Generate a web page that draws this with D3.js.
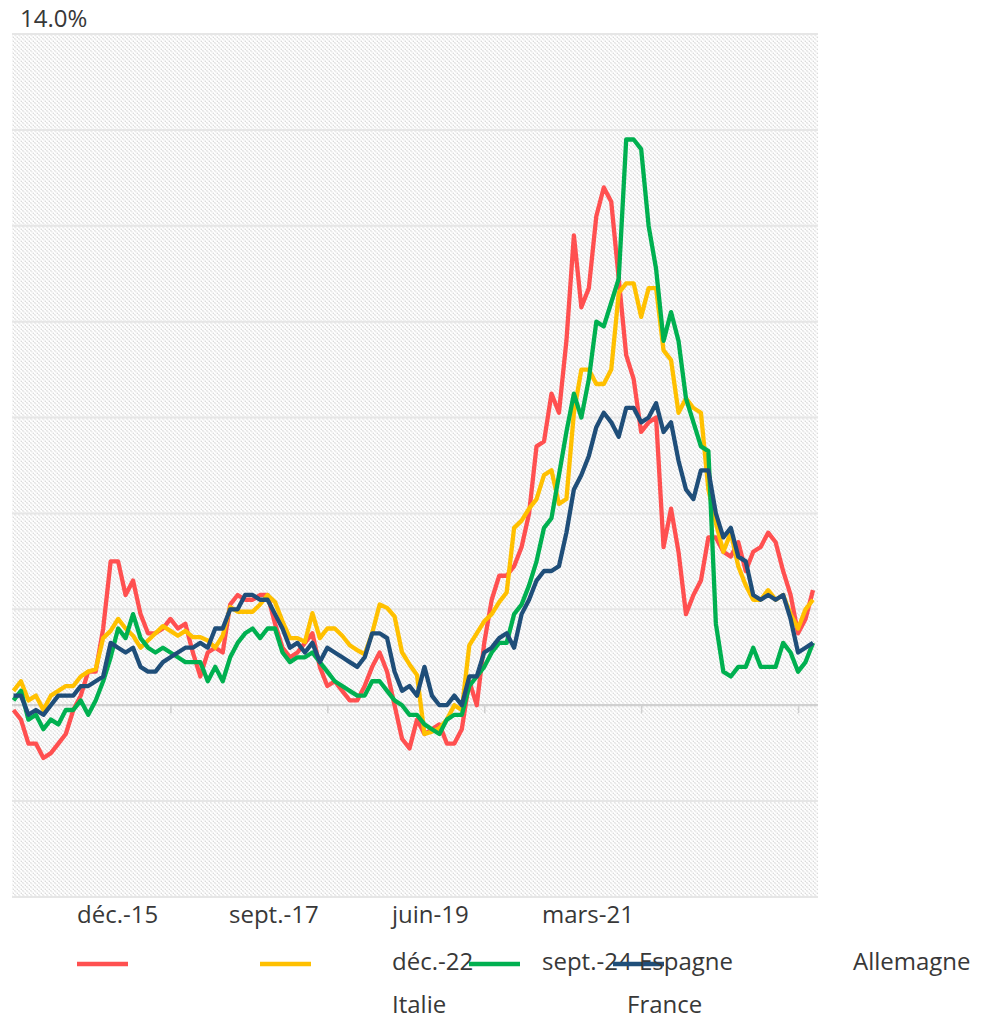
<!DOCTYPE html>
<html>
<head>
    <meta charset="utf-8">
    <title>Inflation - Espagne, Allemagne, Italie, France</title>
    <script src="https://cdn.jsdelivr.net/npm/d3@7"></script>
    <style>
        body {
            margin: 0;
            background: #fff;
        }

        text {
            font-family: "Open Sans", "Noto Sans", sans-serif;
            fill: #383838;
        }

        .grid line {
            stroke: #e6e6e6;
            stroke-width: 2px;
        }

        .series {
            fill: none;
            stroke-width: 4.3px;
            stroke-linejoin: round;
        }
    </style>
</head>
<body>
    <script>
        // Monthly data, déc. 2015 -> nov. 2024 (year-on-year %)
        const months = d3.timeMonth.range(new Date(2015, 11, 1), new Date(2024, 11, 1));

        const tickLabels = ["déc.-15", "sept.-17", "juin-19", "mars-21", "déc.-22", "sept.-24"];
        const seriesNames = ["Espagne", "Allemagne", "Italie", "France"];

        const espagne = [-0.1,
            -0.3, -0.8, -0.8, -1.1, -1.0, -0.8, -0.6, -0.1, 0.2, 0.7, 0.7, 1.6,
            3.0, 3.0, 2.3, 2.6, 1.9, 1.5, 1.5, 1.6, 1.8, 1.6, 1.7, 1.1,
            0.6, 1.1, 1.2, 1.1, 2.1, 2.3, 2.2, 2.2, 2.3, 2.3, 1.7, 1.2,
            1.0, 1.1, 1.3, 1.5, 0.8, 0.4, 0.5, 0.3, 0.1, 0.1, 0.4, 0.8,
            1.1, 0.7, 0.0, -0.7, -0.9, -0.3, -0.6, -0.5, -0.4, -0.8, -0.8, -0.5,
            0.5, 0.0, 1.3, 2.2, 2.7, 2.7, 2.9, 3.3, 4.0, 5.4, 5.5, 6.5,
            6.1, 7.6, 9.8, 8.3, 8.7, 10.2, 10.8, 10.5, 8.9, 7.3, 6.8, 5.7,
            5.9, 6.0, 3.3, 4.1, 3.2, 1.9, 2.3, 2.6, 3.5, 3.5, 3.2, 3.1,
            3.4, 2.8, 3.2, 3.3, 3.6, 3.4, 2.8, 2.3, 1.5, 1.8, 2.4];

        const allemagne = [0.3,
            0.5, 0.1, 0.2, -0.1, 0.2, 0.3, 0.4, 0.4, 0.6, 0.7, 0.75, 1.4,
            1.55, 1.8, 1.6, 1.45, 1.2, 1.35, 1.5, 1.65, 1.55, 1.45, 1.55, 1.42,
            1.42, 1.35, 1.2, 1.45, 2.05, 1.95, 1.95, 1.95, 2.1, 2.3, 2.15, 1.75,
            1.4, 1.4, 1.32, 1.92, 1.4, 1.6, 1.6, 1.45, 1.25, 1.15, 1.06, 1.5,
            2.1, 2.03, 1.85, 1.1, 0.85, 0.63, -0.6, -0.55, -0.48, -0.3, 0.0, -0.1,
            1.25, 1.5, 1.75, 1.9, 2.15, 2.35, 3.7, 3.85, 4.1, 4.3, 4.8, 4.9,
            4.2, 4.3, 6.1, 7.0, 7.0, 6.7, 6.7, 7.0, 8.6, 8.8, 8.8, 8.1,
            8.7, 8.7, 7.4, 7.2, 6.1, 6.4, 6.2, 6.1, 4.5, 3.8, 3.2, 3.6,
            2.9, 2.5, 2.2, 2.2, 2.4, 2.2, 2.3, 1.9, 1.6, 2.0, 2.2];

        const italie = [0.1,
            0.3, -0.3, -0.2, -0.5, -0.3, -0.4, -0.1, -0.1, 0.1, -0.2, 0.1, 0.5,
            1.0, 1.6, 1.4, 1.9, 1.4, 1.2, 1.1, 1.2, 1.1, 1.0, 0.9, 0.9,
            0.9, 0.5, 0.8, 0.5, 1.0, 1.3, 1.5, 1.6, 1.4, 1.6, 1.6, 1.1,
            0.9, 1.0, 1.0, 1.1, 0.9, 0.7, 0.5, 0.4, 0.3, 0.2, 0.2, 0.5,
            0.5, 0.3, 0.1, 0.0, -0.2, -0.2, -0.4, -0.5, -0.6, -0.3, -0.2, -0.2,
            0.4, 0.6, 0.8, 1.1, 1.3, 1.3, 1.9, 2.1, 2.5, 3.0, 3.7, 3.9,
            4.8, 5.7, 6.5, 6.0, 6.8, 8.0, 7.9, 8.4, 8.9, 11.8, 11.8, 11.6,
            10.0, 9.1, 7.6, 8.2, 7.6, 6.4, 5.9, 5.4, 5.3, 1.7, 0.7, 0.6,
            0.8, 0.8, 1.2, 0.8, 0.8, 0.8, 1.3, 1.1, 0.7, 0.9, 1.3];

        const france = [0.2,
            0.2, -0.2, -0.1, -0.2, 0.0, 0.2, 0.2, 0.2, 0.4, 0.4, 0.5, 0.6,
            1.3, 1.2, 1.1, 1.2, 0.8, 0.7, 0.7, 0.9, 1.0, 1.1, 1.2, 1.2,
            1.3, 1.2, 1.6, 1.6, 2.0, 2.0, 2.3, 2.3, 2.2, 2.2, 1.9, 1.6,
            1.2, 1.3, 1.1, 1.3, 0.9, 1.2, 1.1, 1.0, 0.9, 0.8, 1.0, 1.5,
            1.5, 1.4, 0.7, 0.3, 0.4, 0.2, 0.8, 0.2, 0.0, 0.0, 0.2, 0.0,
            0.6, 0.6, 1.1, 1.2, 1.4, 1.5, 1.2, 1.9, 2.2, 2.6, 2.8, 2.8,
            2.9, 3.6, 4.5, 4.8, 5.2, 5.8, 6.1, 5.9, 5.6, 6.2, 6.2, 5.9,
            6.0, 6.3, 5.7, 5.9, 5.1, 4.5, 4.3, 4.9, 4.9, 4.0, 3.5, 3.7,
            3.1, 3.0, 2.3, 2.2, 2.3, 2.2, 2.3, 1.8, 1.1, 1.2, 1.3];

        const colors = ["#ff5050", "#ffc000", "#00b050", "#1f4e79"];

        // Width / height of the page and of the plot area
        const width = 981;
        const height = 1020;
        const plot = { left: 12, right: 818, top: 34, bottom: 897 };

        const svg = d3.select("body")
            .append("svg")
            .attr("width", width)
            .attr("height", height);

        // Diagonal hatch used as plot background
        const defs = svg.append("defs");
        const pattern = defs.append("pattern")
            .attr("id", "hatch")
            .attr("patternUnits", "userSpaceOnUse")
            .attr("width", 4)
            .attr("height", 4);
        pattern.append("rect")
            .attr("width", 4)
            .attr("height", 4)
            .attr("fill", "#ffffff");
        pattern.append("path")
            .attr("d", "M-1,-1 L5,5 M-1,3 L1,5 M3,-1 L5,1")
            .attr("stroke", "#d8d8d8")
            .attr("stroke-width", 1.2)
            .attr("stroke-dasharray", "1.6,0.8");

        svg.append("rect")
            .attr("x", plot.left)
            .attr("y", plot.top)
            .attr("width", plot.right - plot.left)
            .attr("height", plot.bottom - plot.top)
            .attr("fill", "url(#hatch)");

        // Scales
        const x = d3.scaleLinear()
            .domain([0, months.length - 1])
            .range([13.5, 813]);

        const y = d3.scaleLinear()
            .domain([-4, 14])
            .range([plot.bottom, plot.top]);

        // Horizontal gridlines every 2 %
        svg.append("g")
            .attr("class", "grid")
            .selectAll("line")
            .data(d3.range(-4, 14.01, 2).filter(v => v !== 0))
            .enter()
            .append("line")
            .attr("x1", plot.left)
            .attr("x2", plot.right)
            .attr("y1", d => y(d))
            .attr("y2", d => y(d));

        // Zero axis with small ticks every 21 months (no labels here)
        const xAxis = d3.axisBottom(x)
            .tickValues(d3.range(21, months.length, 21))
            .tickSize(8)
            .tickFormat("");

        const axisG = svg.append("g")
            .attr("transform", `translate(0,${y(0)})`)
            .call(xAxis);
        axisG.select(".domain")
            .attr("d", `M${plot.left},0H${plot.right}`)
            .attr("stroke", "#d0d0d0")
            .attr("stroke-width", 2.3);
        axisG.selectAll(".tick line")
            .attr("stroke", "#d0d0d0")
            .attr("stroke-width", 1.5);

        // Only the top value label is shown
        svg.append("text")
            .attr("x", 20)
            .attr("y", 27)
            .attr("font-size", 24)
            .text(d3.format(".1%")(y.domain()[1] / 100));

        // Lines
        const allSeries = [espagne, allemagne, italie, france];
        const line = d3.line()
            .x((d, i) => x(i))
            .y(d => y(d));

        svg.selectAll(".series")
            .data(allSeries)
            .enter()
            .append("path")
            .attr("class", "series")
            .attr("stroke", (d, i) => colors[i])
            .attr("d", line);

        // Date labels and legend, wrapped under the plot the way the original shows them
        const labelSlots = [
            [77, 923], [229, 923], [392, 923], [542, 923],
            [392, 970], [542, 970]
        ];
        svg.selectAll(".date-label")
            .data(tickLabels)
            .enter()
            .append("text")
            .attr("class", "date-label")
            .attr("font-size", 24)
            .attr("x", (d, i) => labelSlots[i][0])
            .attr("y", (d, i) => labelSlots[i][1])
            .text(d => d);

        const swatchSlots = [77, 260, 469, 613];
        svg.selectAll(".swatch")
            .data(colors)
            .enter()
            .append("line")
            .attr("class", "swatch")
            .attr("x1", (d, i) => swatchSlots[i])
            .attr("x2", (d, i) => swatchSlots[i] + 51)
            .attr("y1", 964)
            .attr("y2", 964)
            .attr("stroke", d => d)
            .attr("stroke-width", 4.3);

        const nameSlots = [[639, 970], [853, 970], [392, 1013], [627, 1013]];
        svg.selectAll(".legend-name")
            .data(seriesNames)
            .enter()
            .append("text")
            .attr("class", "legend-name")
            .attr("font-size", 24)
            .attr("x", (d, i) => nameSlots[i][0])
            .attr("y", (d, i) => nameSlots[i][1])
            .text(d => d);
    </script>
</body>
</html>
